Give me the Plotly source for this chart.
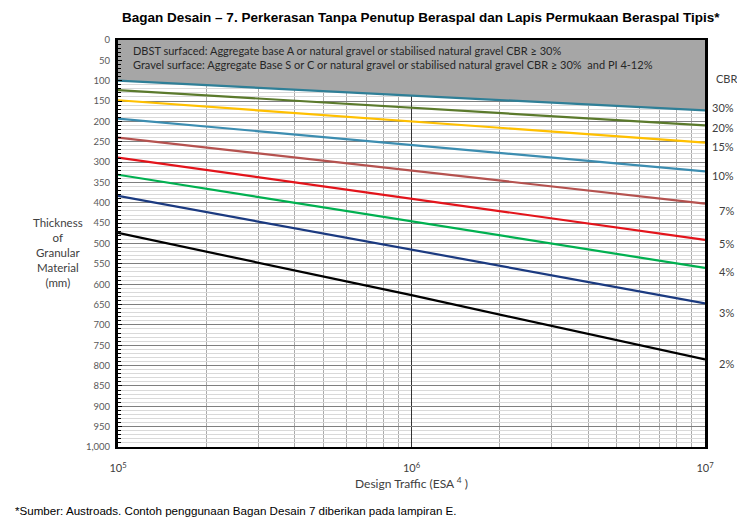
import plotly.graph_objects as go

# ---- data ----
esa = [1e5, 1e6, 1e7]
cbr_labels = ["30%", "20%", "15%", "10%", "7%", "5%", "4%", "3%", "2%"]
cbr30 = [100, 136, 173]
cbr20 = [123, 166, 210]
cbr15 = [148, 200, 252]
cbr10 = [193, 258, 323]
cbr7 = [240, 321, 402]
cbr5 = [289, 390, 491]
cbr4 = [331, 445, 560]
cbr3 = [383, 515, 647]
cbr2 = [474, 627, 785]
series = [cbr30, cbr20, cbr15, cbr10, cbr7, cbr5, cbr4, cbr3, cbr2]
colors = ["#2F7F97", "#5B7A2C", "#FFC000", "#3C8DB0", "#B5524F",
          "#E3141B", "#00B050", "#1B3A80", "#000000"]
label_shift = [3, -2, -4, -4, -7, -4, -4, -9, -4]
y_ticks = list(range(0, 1001, 50))
y_ticktext = [f"{v:,}" for v in y_ticks]
x_ticks = [1e5, 1e6, 1e7]
x_ticktext = ["10<sup>5</sup>", "10<sup>6</sup>", "10<sup>7</sup>"]
x_minor = [m * 10 ** e for e in (5, 6) for m in range(2, 10)]

fig = go.Figure()

# grey shaded region above the CBR 30% line
fig.add_trace(go.Scatter(x=esa, y=[0] * len(esa), mode="lines",
                         line=dict(width=0), hoverinfo="skip", showlegend=False))
fig.add_trace(go.Scatter(x=esa, y=cbr30, mode="lines", fill="tonexty",
                         fillcolor="#A6A6A6", line=dict(width=0),
                         hoverinfo="skip", showlegend=False))

for lab, ys, col in zip(cbr_labels, series, colors):
    fig.add_trace(go.Scatter(x=esa, y=ys, mode="lines", name=lab,
                             line=dict(color=col, width=2.2), showlegend=False))

lab_font = dict(family="Lato", size=11, color="#404040")
annotations = []
for lab, ys, sh in zip(cbr_labels, series, label_shift):
    annotations.append(dict(x=1.0528, xref="paper", y=ys[-1], yref="y", text=lab,
                            showarrow=False, xanchor="right", yanchor="middle",
                            yshift=sh, font=lab_font))
annotations.append(dict(x=1, xref="paper", y=94, yref="y", text="CBR",
                        showarrow=False, xanchor="left", yanchor="middle", xshift=9,
                        font=lab_font))
box_font = dict(family="Lato", size=11, color="#262626")
annotations.append(dict(x=0.022, xref="paper", y=0.975, yref="paper",
                        text="DBST surfaced: Aggregate base A or natural gravel or stabilised natural gravel CBR ≥ 30%",
                        showarrow=False, xanchor="left", yanchor="middle", font=box_font))
annotations.append(dict(x=0.022, xref="paper", y=0.941, yref="paper",
                        text="Gravel surface: Aggregate Base S or C or natural gravel or stabilised natural gravel CBR ≥ 30%  and PI 4-12%",
                        showarrow=False, xanchor="left", yanchor="middle", font=box_font))
annotations.append(dict(x=-0.103, xref="paper", y=0.479, yref="paper",
                        text="Thickness<br>of<br>Granular<br>Material<br>(mm)",
                        showarrow=False, xanchor="center", yanchor="middle", align="center",
                        font=dict(family="Lato", size=11.5, color="#404040")))
annotations.append(dict(x=-0.179, xref="paper", y=-0.155, yref="paper",
                        text="*Sumber: Austroads. Contoh penggunaan Bagan Desain 7 diberikan pada lampiran E.",
                        showarrow=False, xanchor="left", yanchor="middle",
                        font=dict(family="Liberation Sans", size=11.6, color="#000000")))

fig.update_layout(
    width=737, height=519,
    margin=dict(l=118, r=32, t=40, b=72),
    paper_bgcolor="white", plot_bgcolor="white",
    title=dict(text="<b>Bagan Desain – 7. Perkerasan Tanpa Penutup Beraspal dan Lapis Permukaan Beraspal Tipis*</b>",
               x=0.571, xanchor="center", y=0.967, yanchor="middle",
               font=dict(family="Liberation Sans", size=13.5, color="#000000")),
    annotations=annotations,
)

fig.update_xaxes(type="log", range=[5, 7],
                 tickvals=x_ticks, ticktext=x_ticktext,
                 tickfont=dict(family="Lato", size=11, color="#404040"),
                 ticklabelstandoff=10,
                 showgrid=True, gridcolor="#333333", gridwidth=1,
                 minor=dict(tickmode="array", tickvals=x_minor, showgrid=True,
                            gridcolor="#ABABAB", gridwidth=1),
                 showline=True, linecolor="#000000", linewidth=2, mirror=True,
                 zeroline=False,
                 title=dict(text="Design Traffic (ESA <sup>4</sup> )", standoff=6,
                            font=dict(family="Lato", size=12, color="#404040")))

fig.update_yaxes(range=[1000, 0], tickvals=y_ticks, ticktext=y_ticktext,
                 tickfont=dict(family="Lato", size=9.5, color="#595959"),
                 ticklabelstandoff=3,
                 showgrid=True, gridcolor="#7F7F7F", gridwidth=1,
                 minor=dict(dtick=10, showgrid=True, gridcolor="#D9D9D9", gridwidth=1,
                            ticks="inside", ticklen=3, tickcolor="#000000"),
                 ticks="inside", ticklen=4, tickcolor="#000000",
                 showline=True, linecolor="#000000", linewidth=3, mirror=True,
                 zeroline=False)

fig.write_html("out.html", config={"displayModeBar": False},
               post_script="document.body.style.margin='0';")
